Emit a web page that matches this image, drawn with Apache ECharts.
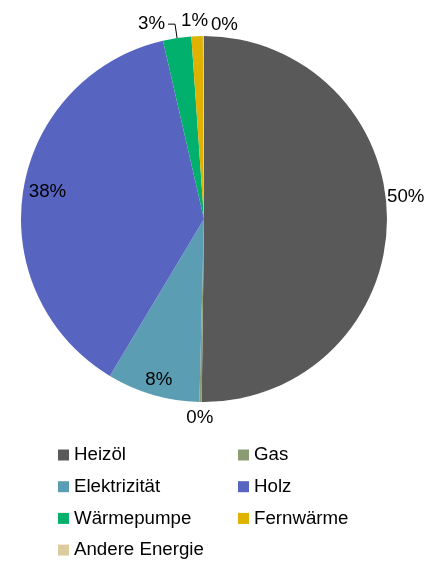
<!DOCTYPE html>
<html><head><meta charset="utf-8">
<script src="https://cdn.jsdelivr.net/npm/echarts@6/dist/echarts.min.js"></script>
<style>html,body{margin:0;padding:0;background:#fff}#c{width:439px;height:563px}</style>
</head><body><div id="c"></div>
<script>
// ---- data ----
const categories = ['Heizöl', 'Gas', 'Elektrizität', 'Holz', 'Wärmepumpe', 'Fernwärme', 'Andere Energie'];
const shares = [50.2, 0.2, 8.2, 37.8, 2.5, 1.0, 0.1];
const legendLeft = ['Heizöl', 'Elektrizität', 'Wärmepumpe', 'Andere Energie'];
const legendRight = ['Gas', 'Holz', 'Fernwärme'];

// ---- style ----
const colors = ['#595959', '#8c9c72', '#5b9db3', '#5764c0', '#00b06c', '#dfb200', '#dccb9c'];
const insideLabelled = ['Elektrizität', 'Holz'];
const leaderLined = ['Wärmepumpe'];
const outsideNudge = { 'Heizöl': [-24, -23], 'Gas': [23, 1.5], 'Fernwärme': [21.5, -1], 'Andere Energie': [44.6, 3] };
const insideNudge = { 'Holz': [0, -2.7], 'Elektrizität': [-1, 8.7] };
const FONT = 'Liberation Sans, Arial, sans-serif';
const FS = 18.7;
const pct = p => Math.round(p.value) + '%';

const mainData = categories.map((n, i) => ({
  name: n, value: shares[i],
  itemStyle: { color: colors[i] },
  label: { show: insideLabelled.indexOf(n) < 0 },
  labelLine: { show: leaderLined.indexOf(n) >= 0 }
}));
const overlayData = categories.map((n, i) => ({
  name: n, value: shares[i],
  label: { show: insideLabelled.indexOf(n) >= 0 }
}));

const chart = echarts.init(document.getElementById('c'), null, { renderer: 'canvas' });
chart.setOption({
  animation: false,
  backgroundColor: '#fff',
  legend: [
    { data: legendLeft, orient: 'vertical', left: 58, top: 445, padding: 0, itemGap: 11.7,
      itemWidth: 11, itemHeight: 11, icon: 'rect', selectedMode: false,
      itemStyle: { borderWidth: 0 },
      textStyle: { fontFamily: FONT, fontSize: FS, color: '#000', lineHeight: 20 } },
    { data: legendRight, orient: 'vertical', left: 238, top: 445, padding: 0, itemGap: 11.7,
      itemWidth: 11, itemHeight: 11, icon: 'rect', selectedMode: false,
      itemStyle: { borderWidth: 0 },
      textStyle: { fontFamily: FONT, fontSize: FS, color: '#000', lineHeight: 20 } }
  ],
  series: [
    {
      type: 'pie', center: [204, 219], radius: [0, 183], startAngle: 90, clockwise: true,
      avoidLabelOverlap: false, silent: true,
      itemStyle: { borderWidth: 0 },
      label: { position: 'outside', formatter: pct, fontFamily: FONT, fontSize: FS, color: '#000',
               distanceToLabelLine: 3 },
      labelLine: { length: 14, length2: 7, smooth: false, lineStyle: { color: '#000', width: 1 } },
      labelLayout: function (p) {
        const s = outsideNudge[categories[p.dataIndex]];
        return s ? { dx: s[0], dy: s[1] } : {};
      },
      emphasis: { disabled: true },
      data: mainData
    },
    {
      type: 'pie', center: [204, 219], radius: [128, 183], startAngle: 90, clockwise: true,
      avoidLabelOverlap: false, silent: true,
      itemStyle: { color: 'rgba(0,0,0,0)', borderWidth: 0 },
      label: { position: 'inside', formatter: pct, fontFamily: FONT, fontSize: FS, color: '#000' },
      labelLine: { show: false },
      labelLayout: function (p) {
        const s = insideNudge[categories[p.dataIndex]];
        return s ? { dx: s[0], dy: s[1] } : {};
      },
      emphasis: { disabled: true },
      data: overlayData
    }
  ]
});
</script></body></html>
